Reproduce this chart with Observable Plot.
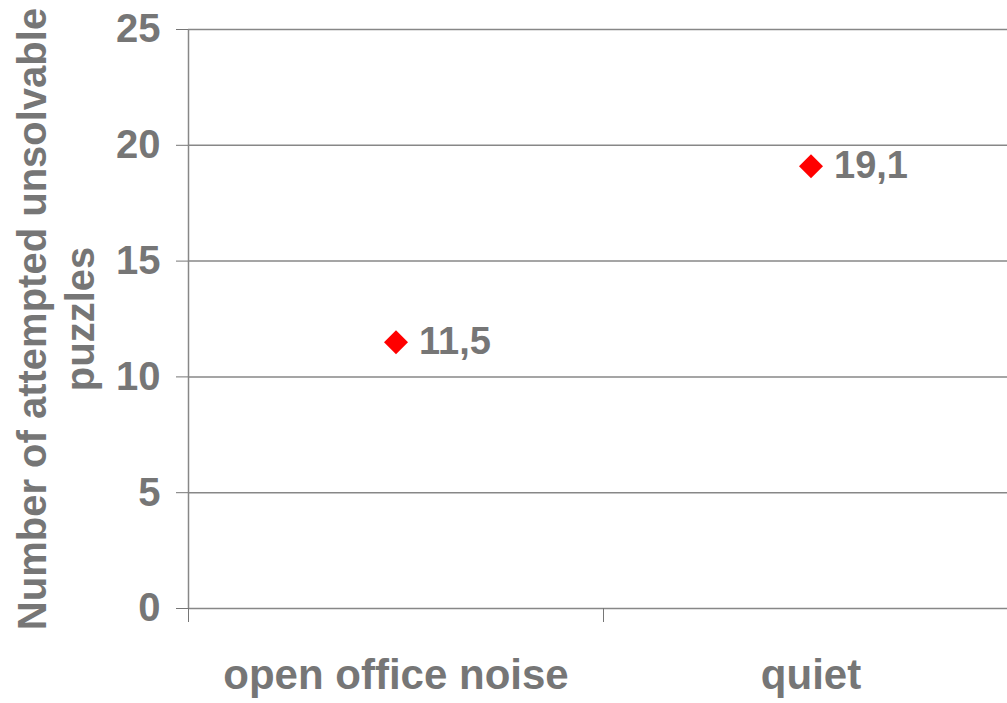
<!DOCTYPE html>
<html>
<head>
<meta charset="utf-8">
<script src="https://cdn.jsdelivr.net/npm/d3@7"></script>
<script src="https://cdn.jsdelivr.net/npm/@observablehq/plot@0.6"></script>
<style>
  html, body { margin: 0; padding: 0; background: #fff; overflow: hidden; }
  #chart { width: 1007px; height: 703px; }
</style>
</head>
<body>
<div id="chart"></div>
<script>
// Conditions and mean number of attempted unsolvable puzzles
const conditions = ["open office noise", "quiet"];
const attempts = [11.5, 19.1];
const yTicks = [0, 5, 10, 15, 20, 25];
const yLabel = "Number of attempted unsolvable\npuzzles";

const textColor = "#767676";
const lineColor = "#878787";
const font = "'Liberation Sans', Arial, Helvetica, sans-serif";

const data = conditions.map((c, i) => ({condition: c, index: i, value: attempts[i]}));
// each condition occupies one unit-wide slot; boundaries at integers, centres at i + 0.5
const slotEdges = d3.range(conditions.length + 1);
const slotCentres = conditions.map((c, i) => i + 0.5);
const commaFormat = v => String(v).replace(".", ",");

const chart = Plot.plot({
  width: 1007,
  height: 703,
  marginLeft: 188,
  marginRight: 0,
  marginTop: 29,
  marginBottom: 95,
  style: {fontFamily: font, fontSize: "40px", fontWeight: "bold", color: textColor, background: "#fff"},
  x: {type: "linear", domain: [0, conditions.length], range: [188, 1018]},
  y: {domain: [0, 25]},
  marks: [
    Plot.ruleY(yTicks, {stroke: lineColor, strokeWidth: 1.5}),
    Plot.ruleX([0], {stroke: lineColor, strokeWidth: 1.5}),
    Plot.axisY(yTicks, {tickSize: 12, tickPadding: 16, label: null, tickFormat: d => d, fontSize: 40}),
    Plot.axisX(slotEdges, {tickSize: 14, tickFormat: () => "", label: null}),
    Plot.axisX(slotCentres, {tickSize: 0, tickPadding: 51, label: null, fontSize: 42,
      tickFormat: d => conditions[Math.floor(d)]}),
    Plot.text([yLabel], {frameAnchor: "left", textAnchor: "middle", rotate: -90, dx: -134, lineHeight: 1.2,
      fontSize: 40, fill: textColor, text: d => d}),
    Plot.dot(data, {x: d => d.index + 0.5, y: "value", symbol: "diamond2", r: 10.8, fill: "#ff0000", stroke: null}),
    Plot.text(data, {x: d => d.index + 0.5, y: "value", text: d => commaFormat(d.value),
      textAnchor: "start", dx: 23, fontSize: 38, fill: textColor})
  ]
});

document.getElementById("chart").appendChild(chart);
</script>
</body>
</html>
